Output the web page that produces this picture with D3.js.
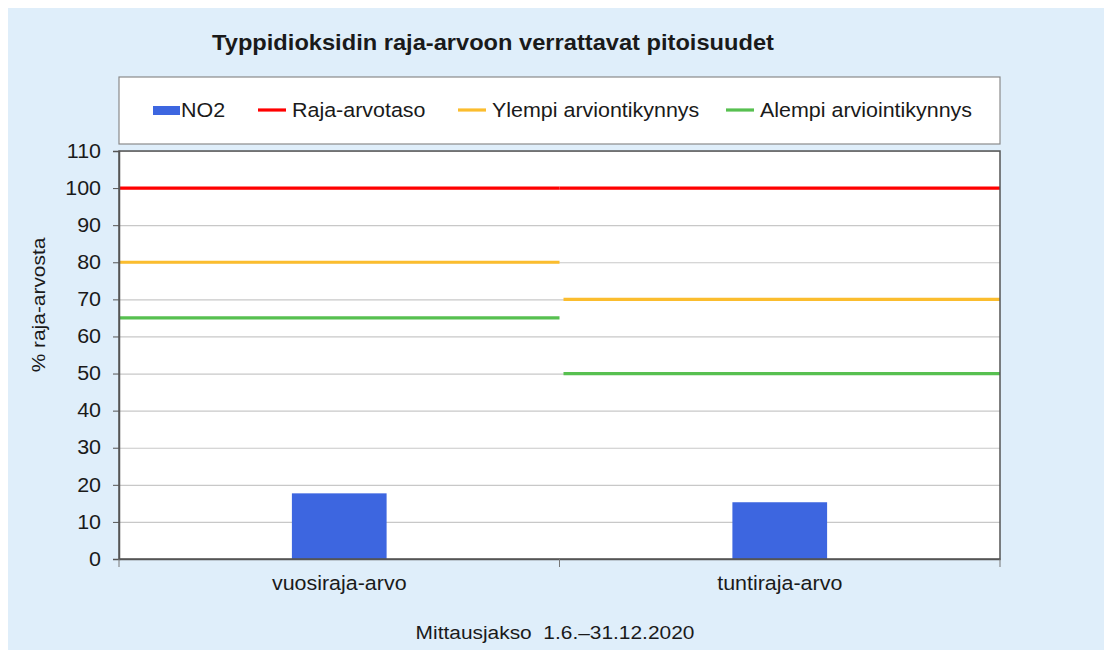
<!DOCTYPE html>
<html>
<head>
<meta charset="utf-8">
<script src="https://cdn.jsdelivr.net/npm/d3@7"></script>
<style>
  body { margin: 0; background: #fff; }
  text { font-family: "Liberation Sans", Arial, sans-serif; fill: #1a1a1a; }
</style>
</head>
<body>
<div id="figure-container"></div>
<script>
// data
const categories = ['vuosiraja-arvo', 'tuntiraja-arvo'];
const no2 = [17.7, 15.3];
const rajaArvotaso = [100, 100];
const ylempi = [80, 70];
const alempi = [65, 50];
const yTicks = [0, 10, 20, 30, 40, 50, 60, 70, 80, 90, 100, 110];

const seriesLines = [
  {name: 'Raja-arvotaso', values: rajaArvotaso, color: '#ff0000'},
  {name: 'Ylempi arviontikynnys', values: ylempi, color: '#fbbd2e'},
  {name: 'Alempi arviointikynnys', values: alempi, color: '#57c050'}
];

// text in the original is a little wider than it is tall
const K = 1.1;
const FS = '19.5px';

var fullWidth = 1104;
var fullHeight = 650;
var margin = {top: 151, right: 104, bottom: 91, left: 119};
var width = fullWidth - margin.left - margin.right;
var height = fullHeight - margin.top - margin.bottom;

function stretch(sel) {
  sel.each(function() {
    var t = d3.select(this);
    var x = +t.attr('x') || 0;
    var y = +t.attr('y') || 0;
    t.attr('x', 0).attr('y', 0).attr('transform', `translate(${x},${y}) scale(${K},1)`);
  });
}

var svg = d3.select('#figure-container')
  .append('svg')
  .attr('width', fullWidth)
  .attr('height', fullHeight);

// background
svg.append('rect')
  .attr('x', 8).attr('y', 8)
  .attr('width', fullWidth - 8).attr('height', fullHeight - 8)
  .attr('fill', '#dfeefa');

svg.append('text')
  .attr('x', 493).attr('y', 50)
  .attr('text-anchor', 'middle')
  .style('font-size', '21.5px')
  .style('font-weight', 'bold')
  .text('Typpidioksidin raja-arvoon verrattavat pitoisuudet')
  .call(stretch);

var xScale = d3.scaleBand()
  .domain(categories)
  .range([0, width]);

var yScale = d3.scaleLinear()
  .domain([0, 110])
  .range([height, 0]);

var g = svg.append('g')
  .attr('transform', `translate(${margin.left},${margin.top})`);

g.append('rect')
  .attr('width', width)
  .attr('height', height)
  .attr('fill', '#fff');

// grid
g.append('g')
  .attr('class', 'grid y')
  .call(d3.axisLeft(yScale).tickValues(yTicks).tickSize(-width).tickFormat(''))
  .call(s => s.select('.domain').remove())
  .call(s => s.selectAll('line').attr('stroke', '#c8c8c8').attr('stroke-width', 1.2));

// bars
var barW = xScale.bandwidth() * 0.215;
g.append('g')
  .selectAll('rect')
  .data(categories)
  .enter()
    .append('rect')
    .attr('x', function(d) { return xScale(d) + xScale.bandwidth() / 2 - barW / 2; })
    .attr('y', function(d, i) { return yScale(no2[i]); })
    .attr('width', barW)
    .attr('height', function(d, i) { return height - yScale(no2[i]); })
    .attr('fill', '#3d66e0');

// threshold lines, one segment per category
seriesLines.forEach(function(s) {
  var same = s.values[0] === s.values[1];
  g.append('g')
    .selectAll('line')
    .data(categories)
    .enter()
      .append('line')
      .attr('x1', function(d, i) { return xScale(d) + (i === 0 || same ? 0 : 4); })
      .attr('x2', function(d, i) { return xScale(d) + xScale.bandwidth(); })
      .attr('y1', function(d, i) { return yScale(s.values[i]); })
      .attr('y2', function(d, i) { return yScale(s.values[i]); })
      .attr('stroke', s.color)
      .attr('stroke-width', 3.2);
});

// frame
g.append('rect')
  .attr('width', width)
  .attr('height', height)
  .attr('fill', 'none')
  .attr('stroke', '#555')
  .attr('stroke-width', 1.5);

// axes
g.append('g')
  .attr('class', 'axis y')
  .call(d3.axisLeft(yScale).tickValues(yTicks).tickSize(6).tickPadding(12))
  .call(s => s.select('.domain').attr('stroke', '#555').attr('stroke-width', 1.5))
  .call(s => s.selectAll('line').attr('stroke', '#555'))
  .call(s => s.selectAll('text').style('font-size', FS).attr('fill', '#1a1a1a')
    .attr('x', -18 / K).attr('transform', `scale(${K},1)`));

var xAxisG = g.append('g')
  .attr('class', 'axis x')
  .attr('transform', `translate(0,${height})`)
  .call(d3.axisBottom(xScale).tickSize(0).tickPadding(17))
  .call(s => s.select('.domain').attr('stroke', '#555').attr('stroke-width', 1.5))
  .call(s => s.selectAll('text').style('font-size', FS).attr('fill', '#1a1a1a')
    .attr('transform', `scale(${K},1)`));

// category separator ticks
xAxisG.selectAll('.sep')
  .data([0, 1, 2])
  .enter()
    .append('line')
    .attr('x1', function(d) { return d * xScale.bandwidth(); })
    .attr('x2', function(d) { return d * xScale.bandwidth(); })
    .attr('y1', 0).attr('y2', 8)
    .attr('stroke', '#777');

svg.append('text')
  .attr('transform', `translate(45,305) rotate(-90) scale(${K},1)`)
  .attr('text-anchor', 'middle')
  .style('font-size', '19px')
  .text('% raja-arvosta');

svg.append('text')
  .attr('x', 555).attr('y', 639)
  .attr('text-anchor', 'middle')
  .style('font-size', '19px')
  .attr('xml:space', 'preserve')
  .text('Mittausjakso  1.6.–31.12.2020')
  .call(stretch);

// legend
var legend = svg.append('g').attr('transform', 'translate(119,77)');
legend.append('rect')
  .attr('width', width).attr('height', 67)
  .attr('fill', '#fff')
  .attr('stroke', '#8a8a8a')
  .attr('stroke-width', 1.2);

var legendItems = [
  {name: 'NO2', color: '#3d66e0', type: 'bar', x: 34},
  {name: seriesLines[0].name, color: seriesLines[0].color, type: 'line', x: 139},
  {name: seriesLines[1].name, color: seriesLines[1].color, type: 'line', x: 339},
  {name: seriesLines[2].name, color: seriesLines[2].color, type: 'line', x: 607}
];

var li = legend.selectAll('.item')
  .data(legendItems)
  .enter()
    .append('g')
    .attr('transform', function(d) { return `translate(${d.x},33)`; });

li.each(function(d) {
  var e = d3.select(this);
  if (d.type === 'bar') {
    e.append('rect').attr('x', 0).attr('y', -4).attr('width', 27).attr('height', 9).attr('fill', d.color);
    e.append('text').attr('x', 28).attr('y', 7).style('font-size', FS).text(d.name).call(stretch);
  } else {
    e.append('line').attr('x1', 0).attr('x2', 28).attr('y1', 0).attr('y2', 0)
      .attr('stroke', d.color).attr('stroke-width', 3.2);
    e.append('text').attr('x', 34).attr('y', 7).style('font-size', FS).text(d.name).call(stretch);
  }
});
</script>
</body>
</html>
